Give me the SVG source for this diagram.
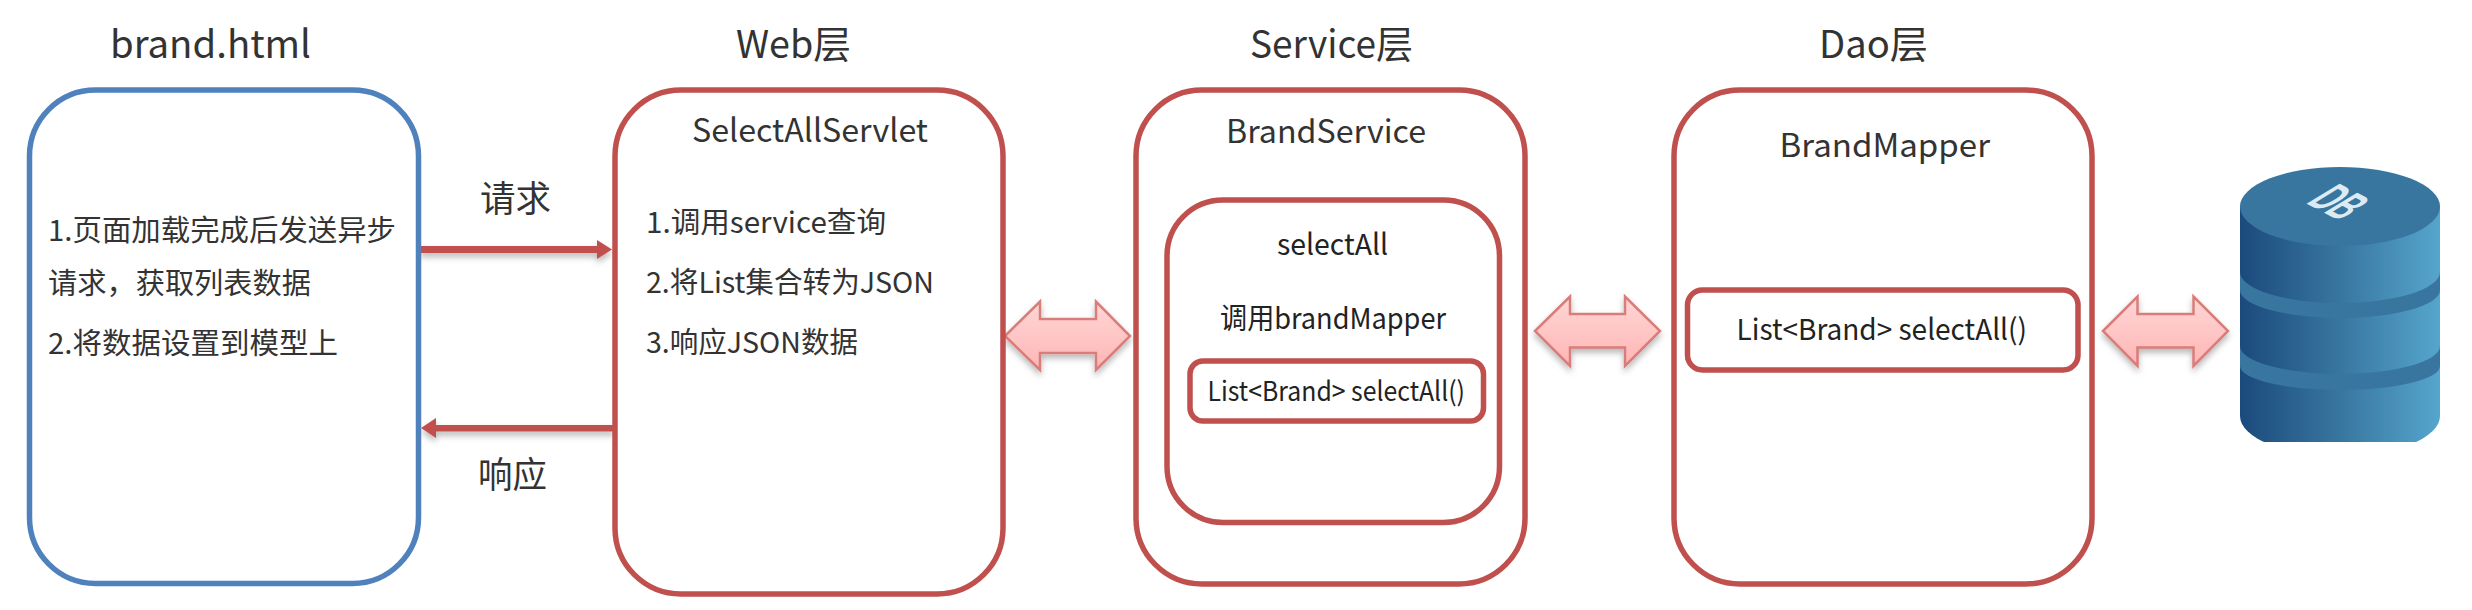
<svg xmlns="http://www.w3.org/2000/svg" width="2472" height="610" viewBox="0 0 2472 610">
<style>
text{font-family:"Noto Sans CJK SC","Noto Sans",sans-serif;fill:#333;}
.box{fill:#fff;stroke:#c0504d;stroke-width:5.500;}
.blue{stroke:#4f81bd;}
.link{fill:#c0504d;filter:url(#sh);}
.dbl{stroke:#d97d7a;stroke-width:2.500;fill:url(#pink);filter:url(#sh);}
.t1{font-size:38px}.t2{font-size:32px}.t3{font-size:29px}.t4{font-size:36px}.t5{font-size:27px;fill:#222}
</style>
<defs>
<linearGradient id="pink" x1="0" y1="0" x2="0" y2="1"><stop offset="0" stop-color="#ffd5d5"/><stop offset="0.5" stop-color="#ffc6c6"/><stop offset="1" stop-color="#ffb4b4"/></linearGradient>
<linearGradient id="side" x1="0" y1="0" x2="1" y2="0"><stop offset="0" stop-color="#1b4a7c"/><stop offset="0.5" stop-color="#38769f"/><stop offset="1" stop-color="#55a5cd"/></linearGradient>
<filter id="sh" x="-10%" y="-40%" width="120%" height="190%"><feDropShadow dx="0" dy="4" stdDeviation="3" flood-color="#000" flood-opacity="0.28"/></filter>
<clipPath id="dbclip"><rect x="2230" y="160" width="220" height="282"/></clipPath>
</defs>
<g id="connectors">
<path class="link" d="M420 246H597V240L612 249.500L597 259V253H420Z"/>
<path class="link" d="M614 425H436V418L421 428L436 438V431.500H614Z"/>
<path class="dbl" d="M1005 336L1040 301.500V319H1096V301.500L1130 336L1096 370V353H1040V370Z"/>
<path class="dbl" d="M1535 331L1570 296.500V314H1625V296.500L1660 331L1625 366V347.500H1570V366Z"/>
<path class="dbl" d="M2103 331L2137.500 296.500V314H2193.500V296.500L2228 331L2193.500 366V347.500H2137.500V366Z"/>
</g>
<g id="brand-html">
<text class="t1" x="110" y="58" textLength="201" lengthAdjust="spacingAndGlyphs">brand.html</text>
<rect class="box blue" x="29.500" y="90" width="389" height="493.500" rx="66" ry="66"/>
<text class="t3" x="48" y="241" textLength="348" lengthAdjust="spacingAndGlyphs">1.页面加载完成后发送异步</text>
<text class="t3" x="48" y="294" textLength="263" lengthAdjust="spacingAndGlyphs">请求，获取列表数据</text>
<text class="t3" x="48" y="354" textLength="290" lengthAdjust="spacingAndGlyphs">2.将数据设置到模型上</text>
</g>
<g id="label-request"><text class="t4" x="480" y="212" textLength="71" lengthAdjust="spacingAndGlyphs">请求</text></g>
<g id="label-response"><text class="t4" x="478" y="488" textLength="69" lengthAdjust="spacingAndGlyphs">响应</text></g>
<g id="web-layer">
<text class="t1" x="736" y="58" textLength="115" lengthAdjust="spacingAndGlyphs">Web层</text>
<rect class="box" x="615" y="90" width="388" height="504" rx="66" ry="66"/>
<text class="t2" x="692" y="142" textLength="236" lengthAdjust="spacingAndGlyphs">SelectAllServlet</text>
<text class="t3" x="646" y="232.500" textLength="240" lengthAdjust="spacingAndGlyphs">1.调用service查询</text>
<text class="t3" x="646" y="292.500" textLength="288" lengthAdjust="spacingAndGlyphs">2.将List集合转为JSON</text>
<text class="t3" x="646" y="353" textLength="212" lengthAdjust="spacingAndGlyphs">3.响应JSON数据</text>
</g>
<g id="service-layer">
<text class="t1" x="1250" y="58" textLength="163" lengthAdjust="spacingAndGlyphs">Service层</text>
<rect class="box" x="1136" y="90" width="389" height="494" rx="66" ry="66"/>
<text class="t2" x="1226" y="143" textLength="200" lengthAdjust="spacingAndGlyphs">BrandService</text>
</g>
<g id="select-all">
<rect class="box" x="1167" y="200" width="332.500" height="322.500" rx="56" ry="56"/>
<text class="t3" x="1277" y="255" textLength="111" lengthAdjust="spacingAndGlyphs" style="fill:#222">selectAll</text>
<text class="t3" x="1220" y="329" textLength="226" lengthAdjust="spacingAndGlyphs" style="fill:#222">调用brandMapper</text>
</g>
<g id="service-method">
<rect class="box" x="1190" y="361" width="293.500" height="60" rx="13" ry="13"/>
<text class="t5" x="1207.500" y="401" textLength="257.500" lengthAdjust="spacingAndGlyphs">List&lt;Brand&gt; selectAll()</text>
</g>
<g id="dao-layer">
<text class="t1" x="1819" y="58" textLength="109" lengthAdjust="spacingAndGlyphs">Dao层</text>
<rect class="box" x="1674" y="90" width="418" height="494" rx="66" ry="66"/>
<text class="t2" x="1779.500" y="157" textLength="210.500" lengthAdjust="spacingAndGlyphs">BrandMapper</text>
</g>
<g id="dao-method">
<rect class="box" x="1687.500" y="290" width="390.500" height="80" rx="15" ry="15"/>
<text class="t3" x="1736.500" y="340" textLength="290.500" lengthAdjust="spacingAndGlyphs" style="fill:#222">List&lt;Brand&gt; selectAll()</text>
</g>
<g id="db">
<g clip-path="url(#dbclip)">
<path d="M2240 206V416A100 40 0 0 0 2440 416V206Z" fill="url(#side)"/>
<path d="M2240 272A100 31 0 0 0 2440 272V290A100 28 0 0 1 2240 290Z" fill="#38769f"/>
<path d="M2240 346A100 28 0 0 0 2440 346V366A100 24 0 0 1 2240 366Z" fill="#38769f"/>
</g>
<ellipse cx="2340" cy="206.500" rx="100" ry="39.500" fill="#38769f"/>
<text transform="matrix(0.81 0.42 -1.6 0.97 2305 203)" style="font-size:30px;fill:#dcebf3;font-family:'Liberation Sans',sans-serif;font-weight:bold" x="0" y="0">DB</text>
</g>
</svg>
